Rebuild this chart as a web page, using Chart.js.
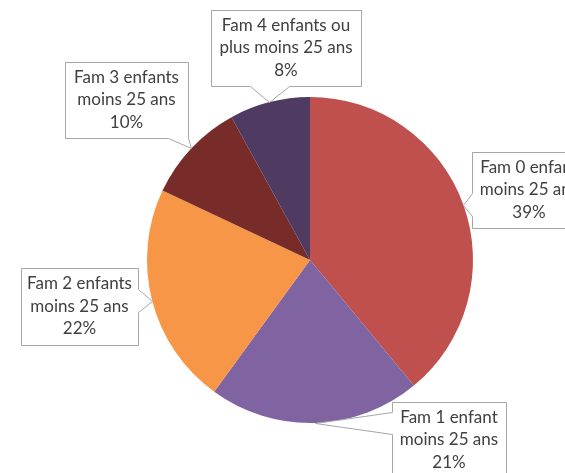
<!DOCTYPE html>
<html>
<head>
<meta charset="utf-8">
<script src="https://cdn.jsdelivr.net/npm/chart.js@4"></script>
<style>
  html, body { margin: 0; padding: 0; background: #fff; overflow: hidden; }
  #wrap { width: 565px; height: 473px; }
</style>
</head>
<body>
<div id="wrap"><canvas id="myChart" width="565" height="473"></canvas></div>
<script>
// data
var categories = [
    ['Fam 0 enfant', 'moins 25 ans'],
    ['Fam 1 enfant', 'moins 25 ans'],
    ['Fam 2 enfants', 'moins 25 ans'],
    ['Fam 3 enfants', 'moins 25 ans'],
    ['Fam 4 enfants ou', 'plus moins 25 ans']
];
var values = [39, 21, 22, 10, 8];
var colors = ['#C0504D', '#8064A2', '#F79646', '#772C2A', '#4F3B62'];

// callout boxes (left, top, width, height)
var boxes = [
    [472, 152, 114, 76],
    [392, 402, 114, 76],
    [21, 268, 117, 77],
    [65, 62, 123, 76],
    [211, 10, 150, 76]
];

function drawCallout(ctx, b, ax, ay) {
    var l = b[0], t = b[1], r = b[0] + b[2], bt = b[1] + b[3];
    var side;
    if (ay > bt) side = 'bottom';
    else if (ay < t) side = 'top';
    else if (ax > r) side = 'right';
    else side = 'left';
    var pts = [];
    function clamp(v, a, c) { return Math.max(a, Math.min(c, v)); }
    if (side == 'bottom' || side == 'top') {
        var px = clamp(ax, l + 4, r - 4);
        var h = b[2] * 0.13;
        var x1 = clamp(px - h, l, r), x2 = clamp(px + h, l, r);
        if (side == 'bottom') pts = [[l, t], [r, t], [r, bt], [x2, bt], [ax, ay], [x1, bt], [l, bt]];
        else pts = [[l, t], [x1, t], [ax, ay], [x2, t], [r, t], [r, bt], [l, bt]];
    } else {
        var py = clamp(ay, t + 4, bt - 4);
        var hh = b[3] * 0.15;
        var y1 = clamp(py - hh, t, bt), y2 = clamp(py + hh, t, bt);
        if (side == 'left') pts = [[l, t], [r, t], [r, bt], [l, bt], [l, y2], [ax, ay], [l, y1]];
        else pts = [[l, t], [r, t], [r, y1], [ax, ay], [r, y2], [r, bt], [l, bt]];
    }
    ctx.beginPath();
    ctx.moveTo(Math.round(pts[0][0]) + 0.5, Math.round(pts[0][1]) + 0.5);
    for (var i = 1; i < pts.length; i++) {
        ctx.lineTo(Math.round(pts[i][0]) + 0.5, Math.round(pts[i][1]) + 0.5);
    }
    ctx.closePath();
    ctx.fillStyle = '#FFFFFF';
    ctx.fill();
    ctx.strokeStyle = '#A6A6A6';
    ctx.lineWidth = 1;
    ctx.stroke();
}

var calloutPlugin = {
    id: 'callouts',
    afterDatasetsDraw: function (chart) {
        var ctx = chart.ctx;
        var meta = chart.getDatasetMeta(0);
        var total = values.reduce(function (a, c) { return a + c; }, 0);
        ctx.save();
        for (var i = 0; i < meta.data.length; i++) {
            var arc = meta.data[i];
            var mid = (arc.startAngle + arc.endAngle) / 2;
            var ax = arc.x + Math.cos(mid) * arc.outerRadius;
            var ay = arc.y + Math.sin(mid) * arc.outerRadius;
            var b = boxes[i];
            drawCallout(ctx, b, ax, ay);
            var lines = categories[i].concat([Math.round(values[i] / total * 100) + '%']);
            ctx.fillStyle = '#404040';
            ctx.font = '17px Lato, "Open Sans", sans-serif';
            ctx.textAlign = 'center';
            ctx.textBaseline = 'middle';
            var cx = b[0] + b[2] / 2;
            var cy = b[1] + b[3] / 2;
            for (var j = 0; j < lines.length; j++) {
                ctx.fillText(lines[j], cx, cy + (j - 1) * 22.5);
            }
        }
        ctx.restore();
    }
};

var ctx = document.getElementById('myChart').getContext('2d');
var chart = new Chart(ctx, {
    type: 'pie',
    data: {
        labels: categories.map(function (c) { return c.join(' '); }),
        datasets: [{
            data: values,
            backgroundColor: colors,
            borderWidth: 0
        }]
    },
    options: {
        responsive: false,
        animation: false,
        layout: { padding: { top: 97, bottom: 50, left: 147, right: 92 } },
        plugins: {
            legend: { display: false },
            tooltip: { enabled: false }
        }
    },
    plugins: [calloutPlugin]
});
</script>
</body>
</html>
